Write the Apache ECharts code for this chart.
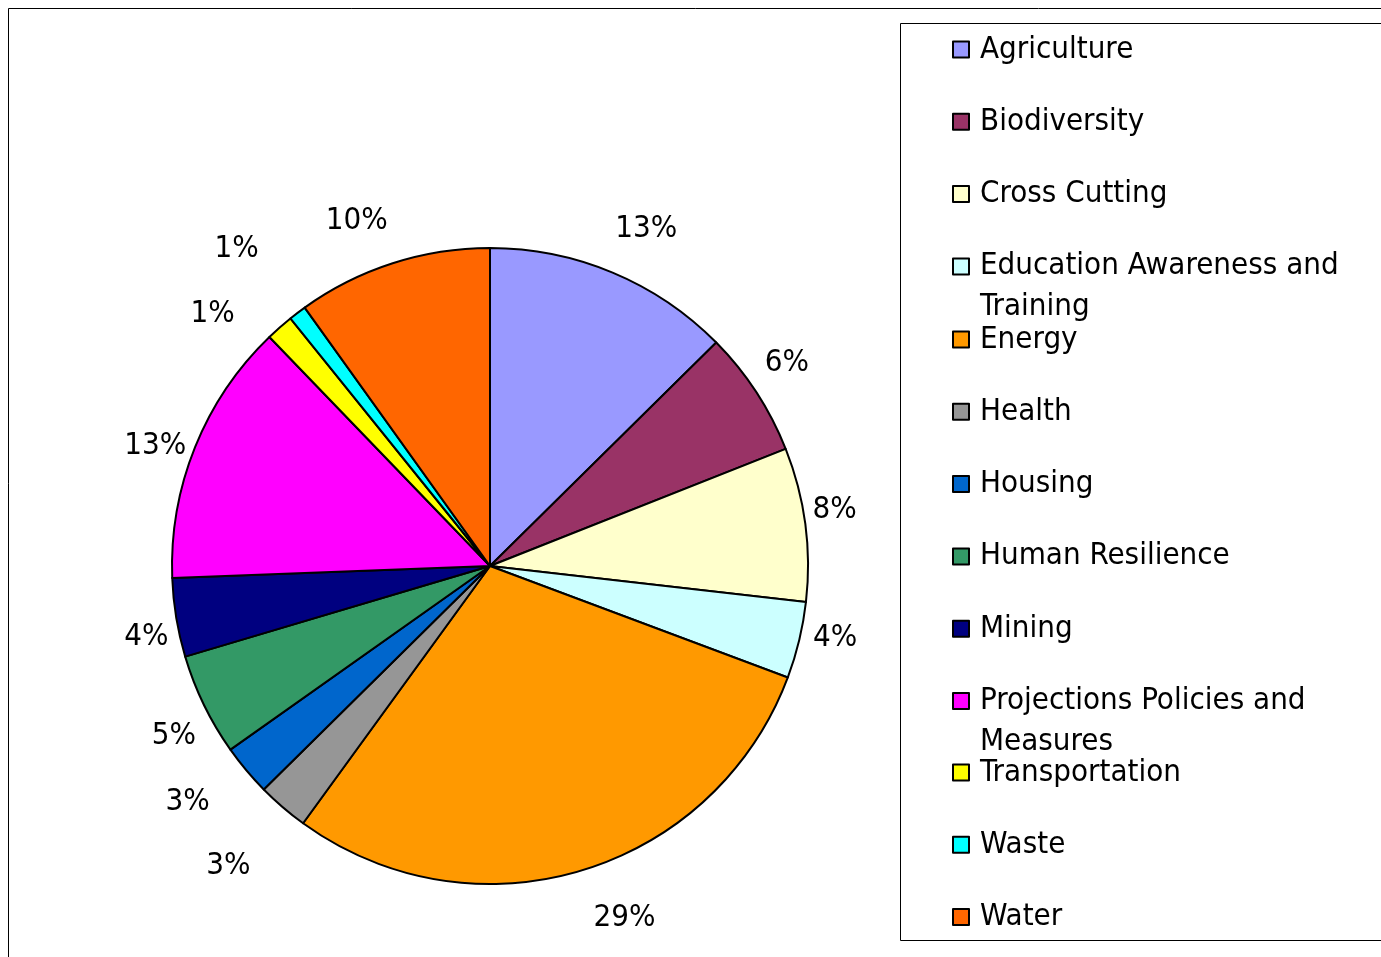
<!DOCTYPE html>
<html>
<head>
<meta charset="utf-8">
<script src="https://cdn.jsdelivr.net/npm/echarts@6/dist/echarts.min.js"></script>
<style>
html,body{margin:0;padding:0;background:#fff;}
#chart{width:1381px;height:957px;}
</style>
</head>
<body>
<div id="chart"></div>
<script>
const categories = ['Agriculture', 'Biodiversity', 'Cross Cutting', 'Education Awareness and\nTraining', 'Energy', 'Health', 'Housing', 'Human Resilience', 'Mining', 'Projections Policies and\nMeasures', 'Transportation', 'Waste', 'Water'];
const values = [12.6, 6.4, 7.8, 3.9, 29.3, 2.6, 2.6, 5.2, 4.0, 13.4, 1.4, 0.9, 9.9];
const colors = ['#9999FF', '#993366', '#FFFFCC', '#CCFFFF', '#FF9900', '#969696', '#0066CC', '#339966', '#000080', '#FF00FF', '#FFFF00', '#00FFFF', '#FF6600'];

const FONT = "'DejaVu Sans Condensed', 'DejaVu Sans', sans-serif";
const CX = 490, CY = 566, R = 318;
// label placement tweaks (angle offset in degrees, extra radial distance) to keep crowded labels apart
const labelNudge = {
  'Agriculture': [4.1, 2], 'Biodiversity': [0.5, 0], 'Energy': [-2.3, 3],
  'Health': [2.6, 30], 'Housing': [4.2, 19], 'Transportation': [-4.1, 10],
  'Waste': [0.8, 40], 'Water': [-1.2, 0]
};

const total = values.reduce((a, b) => a + b, 0);
const mids = [];
let acc = 0;
values.forEach(v => { mids.push((acc + v / 2) / total * 2 * Math.PI); acc += v; });

function legendBlock(names, top) {
  return {
    orient: 'vertical', left: 952, top: top, padding: 0,
    itemGap: 41.3, itemWidth: 16, itemHeight: 16, icon: 'rect',
    selectedMode: false,
    data: names,
    itemStyle: { borderColor: '#000', borderWidth: 2 },
    textStyle: {
      height: 41,
      rich: { n: { fontSize: 31, fontFamily: FONT, color: '#000', lineHeight: 41, padding: [0, 0, 0, 6] } }
    },
    formatter: function (name) {
      return name.split('\n').map(s => '{n|' + s + '}').join('\n');
    }
  };
}

const chart = echarts.init(document.getElementById('chart'), null, { renderer: 'canvas' });
chart.setOption({
  backgroundColor: '#fff',
  animation: false,
  color: colors,
  graphic: [
    { type: 'rect', silent: true, z: -10, shape: { x: 8.5, y: 8.5, width: 1500, height: 1000 }, style: { fill: 'none', stroke: '#000', lineWidth: 1 } },
    { type: 'rect', silent: true, z: -10, shape: { x: 900.5, y: 23.5, width: 600, height: 917 }, style: { fill: 'none', stroke: '#000', lineWidth: 1 } }
  ],
  legend: [
    legendBlock(categories.slice(0, 4), 34),
    legendBlock(categories.slice(4, 10), 324),
    legendBlock(categories.slice(10), 757)
  ],
  series: [{
    type: 'pie',
    center: [CX, CY],
    radius: R,
    startAngle: 90,
    clockwise: true,
    avoidLabelOverlap: false,
    itemStyle: { borderColor: '#000', borderWidth: 2 },
    emphasis: { disabled: true },
    label: {
      show: true,
      position: 'outside',
      fontSize: 31,
      fontFamily: FONT,
      color: '#000',
      formatter: p => Math.round(p.percent) + '%'
    },
    labelLine: { show: false },
    labelLayout: function (p) {
      const nudge = labelNudge[categories[p.dataIndex]] || [0, 0];
      const m = mids[p.dataIndex];
      const t = m + (nudge[0] - 2) * Math.PI / 180;
      const d = 346 + 27 * Math.abs(Math.cos(m)) + nudge[1];
      return { x: CX + d * Math.sin(t), y: CY - d * Math.cos(t) + 2, align: 'center', verticalAlign: 'middle' };
    },
    data: categories.map((c, i) => ({ name: c, value: values[i] }))
  }]
});
</script>
</body>
</html>
